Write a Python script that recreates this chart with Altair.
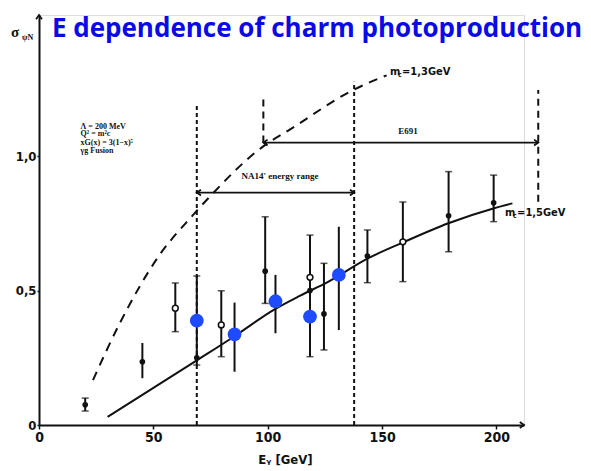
import altair as alt
import pandas as pd

# ---------------- values ----------------
# error bars (x in GeV, low / high cross-section)
err_x = [20.2, 45.2, 59.6, 69.0, 79.7, 85.5, 98.9, 103.4, 118.5, 124.6, 131.1, 143.6, 159.1, 179.1, 198.8]
err_lo = [0.052, 0.174, 0.347, 0.223, 0.254, 0.198, 0.452, 0.341, 0.254, 0.279, 0.353, 0.529, 0.533, 0.644, 0.756]
err_hi = [0.100, 0.305, 0.528, 0.554, 0.499, 0.455, 0.774, 0.558, 0.706, 0.601, 0.737, 0.725, 0.829, 0.942, 0.929]
err_cap = [1, 0, 1, 1, 1, 0, 1, 0, 1, 1, 0, 1, 1, 1, 1]

filled_x = [20.2, 45.2, 69.0, 98.9, 118.5, 124.6, 143.6, 179.1, 198.8]
filled_y = [0.075, 0.235, 0.250, 0.572, 0.500, 0.413, 0.628, 0.778, 0.826]
open_x = [59.6, 79.7, 118.5, 159.1]
open_y = [0.434, 0.372, 0.549, 0.681]
blue_x = [69.0, 85.5, 103.4, 118.5, 131.1]
blue_y = [0.388, 0.337, 0.460, 0.403, 0.558]

curve15_x = [30, 69, 85.5, 103, 114, 126, 144, 159, 179, 199, 207]
curve15_y = [0.03, 0.24, 0.33, 0.43, 0.48, 0.53, 0.62, 0.678, 0.75, 0.806, 0.824]
curve13_x = [23.6, 35.3, 52.7, 67.3, 76, 97.9, 110, 137.3, 152]
curve13_y = [0.167, 0.378, 0.632, 0.78, 0.861, 1.035, 1.10, 1.245, 1.30]

vline_x = [69.0, 98.1, 137.8, 218.3]
vline_lo = [0.0, 1.05, 0.0, 0.83]
vline_hi = [1.197, 1.21, 1.276, 1.245]
vline_kind = ["fine", "coarse", "fine", "coarse"]

range_text = ["NA14' energy range", "E691"]
range_from = [69.0, 98.1]
range_to = [137.8, 218.3]
range_y = [0.864, 1.05]
range_text_x = [105.4, 161.4]
range_text_y = [0.926, 1.093]

mass_x = [153.5, 203.8]
mass_y = [1.313, 0.788]
mass_rest = ["=1,3GeV", "=1,5GeV"]

param_lines = ["Λ = 200 MeV", "Q² = m²c", "xG(x) = 3(1−x)⁵", "γg Fusion"]
param_y = [1.109, 1.080, 1.048, 1.017]
param_x = [18.2, 18.2, 18.2, 18.2]

ylab_text = ["σ", "ψN"]
ylab_x = [-10.5, -5.0]
ylab_y = [1.461, 1.440]
ylab_size = [15, 8]

x_ticks = [0, 50, 100, 150, 200]
y_ticks = [0, 0.5, 1.0]
x_max = 212.07
y_max = 1.5242

INK = "#111111"
LBL_FONT = "Liberation Sans Narrow, DejaVu Sans Condensed, sans-serif"
SERIF = "Liberation Serif, DejaVu Serif, serif"

xs = alt.Scale(domain=[0, x_max], nice=False, zero=False)
ys = alt.Scale(domain=[0, y_max], nice=False, zero=False)
x_axis = alt.Axis(values=x_ticks, title="Eᵧ [GeV]", grid=False, domainColor=INK, domainWidth=2,
                  tickColor=INK, tickWidth=1.5, tickSize=4, labelPadding=1,
                  labelFont=LBL_FONT, labelFontSize=14, labelFontWeight="bold", labelColor=INK,
                  titleFont=LBL_FONT, titleFontSize=13, titleFontWeight="bold", titleColor=INK,
                  titleX=246, titleY=38, titleBaseline="alphabetic", labelFlush=False)
y_axis = alt.Axis(values=y_ticks, title=None, grid=False, domainColor=INK, domainWidth=2,
                  tickColor=INK, tickWidth=1.5, tickSize=2, labelPadding=1,
                  labelFont=LBL_FONT, labelFontSize=13, labelFontWeight="bold", labelColor=INK,
                  labelExpr="datum.value == 0 ? '0' : replace(format(datum.value, '.1f'), '.', ',')")
X = alt.X("x:Q", scale=xs, axis=x_axis)
Y = alt.Y("y:Q", scale=ys, axis=y_axis)

err_df = pd.DataFrame({"x": err_x, "y": err_lo, "y2": err_hi, "cap": err_cap})
cap_df = pd.DataFrame({"x": [x for x, c in zip(err_x, err_cap) if c] * 2,
                       "y": [l for l, c in zip(err_lo, err_cap) if c] + [h for h, c in zip(err_hi, err_cap) if c]})
filled_df = pd.DataFrame({"x": filled_x, "y": filled_y})
open_df = pd.DataFrame({"x": open_x, "y": open_y})
blue_df = pd.DataFrame({"x": blue_x, "y": blue_y})
c15_df = pd.DataFrame({"x": curve15_x, "y": curve15_y})
c13_df = pd.DataFrame({"x": curve13_x, "y": curve13_y})
vl_df = pd.DataFrame({"x": vline_x, "y": vline_lo, "y2": vline_hi, "kind": vline_kind})
rg_df = pd.DataFrame({"x": range_from, "x2": range_to, "y": range_y})
rg_txt_df = pd.DataFrame({"x": range_text_x, "y": range_text_y, "t": range_text})
left_head_df = pd.DataFrame({"x": range_from, "y": range_y})
right_head_df = pd.DataFrame({"x": range_to + [x_max], "y": range_y + [0.0]})
up_head_df = pd.DataFrame({"x": [0.0], "y": [y_max]})
mass_df = pd.DataFrame({"x": mass_x, "y": mass_y, "t": mass_rest})
param_df = pd.DataFrame({"x": param_x, "y": param_y, "t": param_lines})
ylab_df = pd.DataFrame({"x": ylab_x, "y": ylab_y, "t": ylab_text, "s": ylab_size})

layers = []
# dashed vertical markers
layers.append(alt.Chart(vl_df[vl_df.kind == "fine"]).mark_rule(color=INK, strokeWidth=2, strokeDash=[4, 3])
              .encode(x=X, y=Y, y2="y2:Q"))
layers.append(alt.Chart(vl_df[vl_df.kind == "coarse"]).mark_rule(color=INK, strokeWidth=2, strokeDash=[7, 5])
              .encode(x=X, y=Y, y2="y2:Q"))
# energy-range arrows
layers.append(alt.Chart(rg_df).mark_rule(color=INK, strokeWidth=1.8).encode(x=X, x2="x2:Q", y=Y))
layers.append(alt.Chart(left_head_df).mark_point(shape="M1,-0.7L0,0L1,0.7", size=70, filled=False,
                                                 color=INK, strokeWidth=1.8, opacity=1).encode(x=X, y=Y))
layers.append(alt.Chart(right_head_df).mark_point(shape="M-1,-0.7L0,0L-1,0.7", size=70, filled=False,
                                                  color=INK, strokeWidth=1.8, opacity=1).encode(x=X, y=Y))
layers.append(alt.Chart(up_head_df).mark_point(shape="M-0.7,1L0,0L0.7,1", size=70, filled=False,
                                               color=INK, strokeWidth=1.8, opacity=1).encode(x=X, y=Y))
# theory curves
layers.append(alt.Chart(c13_df).mark_line(color=INK, strokeWidth=2, strokeDash=[9, 7], interpolate="monotone")
              .encode(x=X, y=Y))
layers.append(alt.Chart(c15_df).mark_line(color=INK, strokeWidth=2, interpolate="monotone")
              .encode(x=X, y=Y))
# error bars and caps
layers.append(alt.Chart(err_df).mark_rule(color=INK, strokeWidth=2).encode(x=X, y=Y, y2="y2:Q"))
layers.append(alt.Chart(cap_df).mark_tick(color=INK, orient="horizontal", size=7, thickness=1.5)
              .encode(x=X, y=Y))
# data points
layers.append(alt.Chart(filled_df).mark_circle(color=INK, size=32, opacity=1).encode(x=X, y=Y))
layers.append(alt.Chart(open_df).mark_point(shape="circle", size=34, filled=True, fill="white",
                                            stroke=INK, strokeWidth=1.5, opacity=1).encode(x=X, y=Y))
layers.append(alt.Chart(blue_df).mark_circle(color="#1f4bff", size=190, opacity=1).encode(x=X, y=Y))
# annotations
layers.append(alt.Chart(rg_txt_df).mark_text(font=SERIF, fontSize=9, fontWeight="bold", color=INK,
                                             align="center", baseline="middle").encode(x=X, y=Y, text="t:N"))
layers.append(alt.Chart(mass_df).mark_text(font=LBL_FONT, fontSize=11, fontWeight="bold", color=INK,
                                           align="left", baseline="middle").encode(x=X, y=Y, text=alt.value("m")))
layers.append(alt.Chart(mass_df).mark_text(font=LBL_FONT, fontSize=7, fontWeight="bold", color=INK,
                                           align="left", baseline="middle", dx=8, dy=3)
              .encode(x=X, y=Y, text=alt.value("c")))
layers.append(alt.Chart(mass_df).mark_text(font=LBL_FONT, fontSize=11, fontWeight="bold", color=INK,
                                           align="left", baseline="middle", dx=12).encode(x=X, y=Y, text="t:N"))
layers.append(alt.Chart(param_df).mark_text(font=SERIF, fontSize=8, fontWeight="bold", color=INK,
                                            align="left", baseline="middle").encode(x=X, y=Y, text="t:N"))
layers.append(alt.Chart(ylab_df).mark_text(font=SERIF, fontWeight="bold", color=INK,
                                           align="center", baseline="middle")
              .encode(x=X, y=Y, text="t:N", size=alt.Size("s:Q", scale=None, legend=None)))

chart = alt.layer(*layers).properties(
    width=485, height=410,
    autosize=alt.AutoSizeParams(type="none"),
    padding={"left": 31, "top": 7, "right": 59, "bottom": 42},
    title=alt.TitleParams("E dependence of charm photoproduction", anchor="start", font="Open Sans",
                          fontSize=26, fontWeight="bold", color="#0a0ae6", dx=41, dy=35),
).configure_view(strokeWidth=0, strokeOpacity=0).configure(background="white")

chart.save("out.html", embed_options={"renderer": "svg", "actions": False})
